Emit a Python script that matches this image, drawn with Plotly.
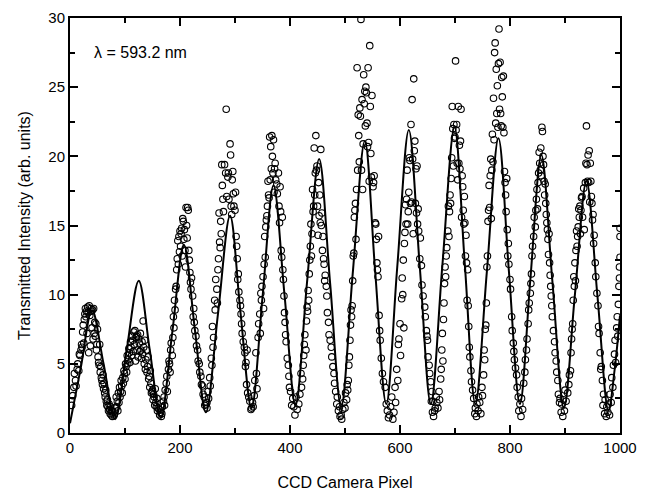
import plotly.graph_objects as go

# ---- fit curve key points ----
fit_x = [0, 20, 40, 61, 82, 103, 125, 145, 165, 186, 207, 227, 247, 269, 291, 310, 330,
         350, 370, 390, 410, 431, 453, 473, 493, 514, 536, 555, 575, 595, 616, 636, 656,
         677, 699, 718, 737, 758, 779, 798, 818, 837, 857, 877, 898, 918, 939, 959, 979,
         990, 1000]
fit_y = [0.7, 4.8, 8.9, 5.0, 1.0, 6.0, 11.0, 6.0, 1.1, 7.3, 13.6, 7.5, 1.5, 8.6, 15.7, 8.7, 1.8,
         9.8, 17.9, 10.0, 2.0, 10.9, 19.8, 10.8, 1.9, 11.5, 21.1, 11.6, 2.1, 12.0, 21.9, 12.0, 2.1,
         12.1, 22.1, 12.1, 2.1, 11.7, 21.3, 11.7, 2.1, 11.1, 20.1, 11.0, 1.8, 10.0, 18.2, 9.9, 1.6,
         4.5, 8.5]

# ---- measured points, per fringe (x pixel, intensity) ----
fringe_1 = [(3,2.0),(5,2.7),(7,3.3),(8,4.3),(10,3.8),(11,3.4),(13,4.6),(14,5.0),(16,4.5),(17,5.7),
            (18,5.6),(20,6.0),(21,6.4),(22,6.2),(23,7.3),(24,7.8),(25,6.5),(26,8.2),(27,8.6),(28,9.0),
            (29,8.4),(30,8.8),(31,7.2),(32,9.1),(33,8.7),(34,5.8),(35,9.2),(36,8.5),(37,6.3),(38,9.0),
            (39,8.8),(40,7.6),(41,8.9),(42,6.8),(43,9.0),(44,7.2),(45,8.0),(46,7.0),(47,7.9),(48,6.0),
            (49,6.4),(50,7.5),(51,5.5),(52,5.1),(53,4.9),(54,6.4),(55,4.4),(56,4.8),(57,4.0),(58,3.8),
            (59,3.5),(60,4.2),(61,3.2),(62,3.6),(63,2.9),(64,2.6),(65,3.1),(66,2.3),(67,2.0),(68,2.4),
            (69,1.9),(70,1.6),(71,2.1),(72,1.7),(73,1.4),(74,1.9),(75,1.3),(76,1.6),(77,1.2),(78,1.5),
            (80,1.3),(82,1.8)]
fringe_2 = [(84,2.6),(85,1.9),(86,2.3),(87,1.6),(88,2.9),(89,2.2),(90,3.3),(91,2.6),(92,3.0),(93,3.8),
            (94,3.4),(95,2.9),(96,4.0),(97,3.6),(98,4.5),(99,4.3),(100,3.9),(101,5.0),(102,4.8),(103,4.4),
            (104,5.6),(105,5.0),(106,5.3),(107,6.1),(108,5.8),(109,5.1),(110,6.6),(111,6.2),(112,5.6),
            (113,7.0),(114,6.7),(115,5.9),(116,7.3),(117,6.4),(118,7.4),(119,5.2),(120,6.9),(121,7.0),
            (122,6.0),(123,7.1),(124,5.5),(125,6.8),(126,6.5),(127,5.9),(128,7.2),(129,6.0),(130,5.4),
            (131,6.6),(132,5.7),(133,8.1),(134,6.2),(135,5.0),(136,6.7),(137,4.6),(138,5.3),(139,6.0),
            (140,4.4),(141,4.8),(142,5.5),(143,3.9),(144,4.1),(145,3.3),(146,4.5),(147,3.6),(148,2.9),
            (149,3.0),(150,3.1),(151,2.4),(152,2.8),(153,2.6),(154,2.0),(155,3.2),(156,2.2),(157,1.9),
            (158,2.5),(159,1.6),(160,1.8),(162,1.7),(163,1.3),(165,1.5),(166,1.2)]
fringe_3 = [(167,1.4),(168,1.9),(170,2.3),(171,2.6),(172,2.0),(173,3.1),(175,3.6),(176,4.1),(177,3.0),
            (179,4.6),(180,5.2),(181,5.0),(182,4.4),(183,6.0),(184,6.5),(186,5.6),(187,6.9),(188,8.4),
            (189,7.6),(190,9.6),(191,8.9),(192,10.4),(193,10.6),(194,11.8),(195,12.6),(196,13.9),
            (197,12.2),(198,14.2),(199,13.1),(200,14.6),(201,13.5),(202,14.4),(203,14.8),(204,12.8),
            (205,15.5),(206,15.3),(207,14.0),(208,14.7),(209,13.2),(210,12.0),(211,16.3),(212,15.0),
            (213,14.1),(214,16.3),(215,16.1),(216,13.2),(217,12.5),(218,11.6),(219,10.9),(220,10.4),
            (221,11.2),(223,9.9),(224,8.4),(225,9.0),(226,8.0),(227,7.4),(229,7.0),(230,6.3),(232,6.0),
            (233,5.2),(235,5.0),(236,4.4),(238,4.1),(239,3.5),(241,3.4),(242,2.8),(244,2.6),(245,2.0),
            (247,2.1),(249,1.8)]
fringe_4 = [(249,2.2),(251,3.0),(252,2.5),(254,4.0),(255,3.4),(257,5.4),(258,4.9),(259,7.7),(260,6.2),
            (261,6.9),(263,9.6),(264,8.9),(265,11.1),(267,10.4),(268,9.4),(269,11.8),(270,12.6),
            (271,15.9),(272,13.8),(273,13.4),(274,15.3),(275,14.4),(276,19.4),(277,17.9),(278,16.9),
            (279,16.0),(281,19.4),(283,18.8),(284,23.4),(285,17.1),(287,18.5),(288,18.8),(289,16.9),
            (291,20.9),(292,20.1),(293,16.4),(294,15.8),(295,18.3),(296,18.9),(297,17.3),(298,16.4),
            (300,16.1),(301,17.4),(302,14.2),(303,13.5),(304,12.6),(305,11.1),(306,11.5),(307,10.2),
            (309,9.6),(310,9.2),(311,8.6),(312,7.9),(313,7.2),(315,6.6),(317,6.2),(318,5.8),(319,4.8),
            (320,5.1),(321,3.5),(322,6.0),(323,2.9),(325,2.6),(327,2.3),(329,1.7),(330,1.8),(332,2.2),
            (333,1.9),(335,2.7)]
fringe_5 = [(336,3.8),(338,5.8),(339,4.3),(340,3.2),(342,6.9),(343,7.9),(345,8.6),(346,7.2),(347,10.1),
            (348,9.6),(349,10.6),(351,11.3),(352,9.0),(353,12.2),(354,14.2),(355,12.7),(356,14.9),
            (357,15.4),(358,15.7),(359,16.4),(360,18.2),(361,17.2),(362,17.0),(363,21.4),(364,18.3),
            (365,20.7),(366,19.1),(367,21.5),(368,20.0),(369,18.8),(370,21.2),(371,17.4),(372,19.1),
            (373,19.5),(374,18.3),(376,18.0),(377,17.3),(379,18.8),(380,16.4),(381,15.2),(382,17.8),
            (383,16.0),(384,13.2),(385,12.7),(386,15.6),(387,11.8),(388,11.1),(389,9.9),(390,8.7),
            (391,8.0),(392,7.1),(393,6.6),(395,5.4),(397,4.9),(398,4.1),(399,3.3),(401,3.0),(403,2.0),
            (405,2.5),(407,1.9),(409,1.3),(411,2.6),(413,1.7)]
fringe_6 = [(416,2.1),(418,2.8),(420,4.3),(421,3.3),(423,3.9),(424,4.9),(425,5.6),(426,6.4),(427,7.1),
            (429,6.0),(430,8.1),(431,9.1),(432,8.8),(433,10.3),(434,9.6),(435,11.5),(436,12.5),
            (437,13.5),(438,15.1),(439,12.8),(440,14.4),(441,17.6),(442,16.0),(443,16.4),(444,20.6),
            (445,17.2),(446,18.8),(447,21.5),(448,19.0),(449,19.3),(450,16.4),(451,14.3),(452,18.1),
            (453,15.7),(454,17.2),(455,15.2),(456,20.5),(457,15.0),(458,15.9),(459,13.2),(460,14.2),
            (461,12.6),(462,12.2),(463,11.0),(464,11.4),(466,10.6),(467,9.9),(468,8.7),(470,8.0),
            (471,7.1),(473,6.7),(475,6.2),(476,5.5),(478,4.8),(480,4.3),(481,3.6),(483,3.0),(485,2.1),
            (486,2.6),(488,1.6),(490,1.9),(491,1.2),(493,1.3),(494,1.0),(496,1.7),(498,2.2)]
fringe_7 = [(500,1.8),(501,2.9),(503,2.4),(504,3.5),(505,3.1),(506,3.8),(507,4.9),(508,5.5),(509,6.7),
            (510,7.8),(511,8.9),(512,8.4),(513,9.2),(514,11.0),(515,12.8),(516,13.0),(517,15.6),
            (518,16.1),(519,16.6),(520,14.0),(521,17.6),(522,26.4),(523,19.0),(524,23.0),(525,21.5),
            (526,19.6),(527,23.5),(528,22.9),(529,29.9),(530,19.0),(531,24.1),(532,17.6),(533,20.9),
            (534,25.9),(535,23.8),(536,24.7),(537,22.2),(538,25.0),(539,24.6),(540,22.4),(541,20.7),
            (542,26.4),(543,21.0),(544,18.2),(545,28.0),(546,23.6),(547,20.2),(548,18.5),(549,24.4),
            (551,17.8),(552,18.1),(553,18.6),(555,15.2),(556,15.1),(557,14.0),(558,12.3),(559,11.8),
            (560,11.3),(561,14.2),(562,8.5),(563,7.4),(564,6.7),(566,5.4),(568,4.3),(570,3.7),
            (573,3.3),(575,2.1),(577,1.6),(579,1.1),(581,1.3),(583,1.9),(585,2.6)]
fringe_8 = [(587,1.0),(589,1.5),(591,3.3),(592,2.2),(594,4.6),(596,3.8),(597,6.4),(598,6.8),(600,7.9),
            (601,5.6),(603,9.7),(604,11.2),(605,10.0),(606,12.5),(607,7.6),(608,13.7),(609,14.5),
            (610,16.5),(611,15.1),(612,16.9),(613,19.0),(614,15.1),(615,16.0),(616,17.4),(617,19.9),
            (618,19.7),(619,16.6),(620,22.3),(621,16.7),(622,24.1),(623,19.8),(624,14.4),(625,25.6),
            (626,20.4),(627,21.1),(628,16.6),(629,19.1),(630,15.9),(631,19.3),(632,15.1),(633,16.2),
            (634,14.6),(636,12.6),(637,14.1),(639,12.1),(640,10.7),(642,9.9),(645,9.1),(646,8.4),
            (648,7.4),(649,7.0),(650,6.7),(651,5.5),(653,4.9),(654,4.3),(656,3.7),(657,2.3),(658,3.0),
            (659,1.5),(660,2.3),(661,1.2),(663,1.6),(664,1.8),(666,2.6),(667,2.2)]
fringe_9 = [(669,1.8),(671,3.0),(672,2.4),(674,3.9),(675,4.6),(676,6.0),(677,7.2),(678,5.2),(679,8.2),
            (680,9.4),(681,10.8),(682,12.0),(683,11.3),(684,12.8),(685,13.4),(687,14.6),(688,16.4),
            (689,14.2),(690,16.0),(691,17.2),(692,16.6),(693,18.4),(694,19.9),(695,23.6),(696,22.0),
            (697,19.3),(698,22.3),(699,21.3),(700,21.4),(701,26.9),(702,21.9),(703,22.3),(704,19.5),
            (705,18.3),(706,23.6),(707,19.5),(708,20.8),(709,19.1),(710,21.1),(711,23.4),(712,15.6),
            (713,18.6),(714,17.8),(715,16.1),(716,15.1),(717,17.1),(718,15.2),(719,12.8),(720,14.3),
            (721,12.3),(722,9.6),(723,11.8),(724,9.2),(725,7.7),(726,6.2),(727,5.5),(729,4.5),(730,3.7),
            (732,3.1),(734,2.5),(736,1.4),(737,1.8),(739,1.2),(740,2.1),(742,1.6),(743,2.6)]
fringe_10 = [(745,2.2),(747,1.4),(749,3.3),(750,2.7),(752,4.2),(753,6.0),(754,5.3),(755,7.5),(756,7.8),
             (757,9.4),(758,12.0),(759,12.8),(760,15.3),(761,16.1),(762,17.9),(763,16.3),(764,18.6),
             (765,19.8),(766,15.5),(767,19.0),(768,21.6),(769,19.6),(770,24.2),(771,21.2),(772,27.5),
             (773,28.2),(774,22.4),(775,26.3),(776,23.1),(777,25.1),(778,22.1),(779,26.7),(780,29.2),
             (781,23.4),(782,26.8),(783,23.1),(784,22.2),(785,25.7),(786,24.3),(787,22.1),(788,25.8),
             (789,21.7),(790,18.9),(791,18.1),(792,17.2),(793,16.0),(794,18.4),(795,14.7),(796,12.8),
             (797,13.7),(798,12.2),(800,11.1),(801,10.4),(803,8.4),(804,7.4),(806,6.5),(807,5.9),
             (808,5.3),(810,4.7),(812,4.2),(813,3.3),(815,2.6),(816,1.6),(818,2.1),(820,1.2),(821,2.5),
             (823,1.7)]
fringe_11 = [(825,3.6),(827,4.4),(828,5.3),(830,6.0),(831,6.8),(833,7.9),(834,8.9),(835,9.4),(837,10.1),
             (838,10.8),(839,11.5),(840,12.8),(841,13.5),(843,14.2),(844,15.6),(846,14.9),(847,16.1),
             (848,16.9),(849,17.6),(850,16.2),(851,18.1),(852,18.8),(853,20.3),(854,19.5),(855,19.0),
             (856,20.6),(857,18.6),(858,22.1),(859,21.8),(860,20.0),(861,19.4),(862,18.2),(863,17.2),
             (864,18.0),(865,16.6),(866,15.8),(867,15.2),(868,14.7),(869,14.0),(870,12.9),(871,14.4),
             (872,12.3),(873,11.4),(874,10.6),(875,9.9),(876,9.2),(877,8.4),(879,7.4),(881,6.6),
             (882,5.8),(884,5.2),(885,4.4),(887,3.8),(888,2.8),(890,2.2),(891,2.5),(893,1.5),(894,2.1),
             (896,1.2),(897,2.4),(899,1.6),(900,3.1),(902,2.3)]
fringe_12 = [(905,2.9),(907,3.5),(908,4.2),(910,4.5),(911,5.8),(912,6.8),(913,7.5),(914,7.9),(915,9.6),
             (916,11.3),(917,10.6),(918,12.3),(919,11.0),(920,13.2),(921,14.6),(922,13.5),(923,14.2),
             (924,14.9),(925,16.2),(926,15.6),(927,16.4),(928,14.4),(929,16.1),(930,17.0),(931,17.1),
             (932,15.6),(934,17.7),(935,14.7),(937,18.1),(938,19.5),(939,22.2),(940,19.4),(941,18.2),
             (942,20.1),(943,18.1),(944,20.4),(945,16.7),(946,19.5),(947,18.2),(948,17.1),(949,16.6),
             (950,15.4),(951,15.8),(952,13.7),(953,14.3),(955,12.3),(956,11.3),(958,10.1),(960,9.2),
             (961,7.7),(962,7.2),(964,5.8),(965,4.6),(966,4.8),(968,3.8),(969,2.0),(970,2.8),(972,1.4),
             (973,2.4),(975,1.2),(976,1.9),(978,1.5),(979,2.1),(981,1.3),(982,2.8),(984,2.2),(985,4.0),
             (987,3.3),(988,4.9),(990,5.7),(991,6.7),(992,5.1),(994,7.6),(995,8.4),(996,7.0),(997,9.3),
             (998,10.6),(999,12.0),(1000,12.7),(1000,14.8),(1000,14.2),(999,11.2)]

fringes = [fringe_1, fringe_2, fringe_3, fringe_4, fringe_5, fringe_6,
           fringe_7, fringe_8, fringe_9, fringe_10, fringe_11, fringe_12]

x_ticks = [0, 200, 400, 600, 800, 1000]
y_ticks = [0, 5, 10, 15, 20, 25, 30]
label_text = "λ = 593.2 nm"
x_title = "CCD Camera Pixel"
y_title = "Transmitted Intensity (arb. units)"

pts_x = [p[0] for f in fringes for p in f]
pts_y = [p[1] for f in fringes for p in f]

FONT = "Liberation Sans, Arial, Helvetica, sans-serif"

fig = go.Figure()
fig.add_trace(go.Scatter(
    x=pts_x, y=pts_y, mode="markers",
    marker=dict(symbol="circle-open", size=6.5, color="black", line=dict(width=1.1, color="black")),
    showlegend=False, hoverinfo="skip"))
fig.add_trace(go.Scatter(
    x=fit_x, y=fit_y, mode="lines",
    line=dict(color="black", width=2, shape="spline", smoothing=1.0),
    showlegend=False, hoverinfo="skip"))

fig.add_annotation(x=40, y=27.5, xref="x", yref="y", text=label_text, showarrow=False,
                   xanchor="left", yanchor="middle", font=dict(family=FONT, size=16, color="black"))

axis_common = dict(showgrid=False, zeroline=False, showline=True, linecolor="black", linewidth=2,
                   mirror="ticks", ticks="inside", ticklen=8, tickwidth=1.5, tickcolor="black",
                   automargin=False,
                   tickfont=dict(family=FONT, size=15, color="black"))

fig.update_xaxes(range=[0, 1000], tickvals=x_ticks, ticktext=[str(v) for v in x_ticks],
                 minor=dict(dtick=100, ticks="inside", ticklen=5, tickwidth=1.5, tickcolor="black"),
                 title=dict(text=x_title, font=dict(family=FONT, size=16, color="black"), standoff=22),
                 **axis_common)
fig.update_yaxes(range=[0, 30], tickvals=y_ticks, ticktext=[str(v) for v in y_ticks],
                 minor=dict(dtick=2.5, ticks="inside", ticklen=5, tickwidth=1.5, tickcolor="black"),
                 title=dict(text=y_title, font=dict(family=FONT, size=16, color="black"), standoff=14),
                 **axis_common)

fig.update_layout(width=652, height=493, margin=dict(l=70, r=32, t=18, b=60),
                  paper_bgcolor="white", plot_bgcolor="white",
                  font=dict(family=FONT, color="black"))

fig.write_html("out.html", config={"displayModeBar": False},
               post_script="document.body.style.margin='0';document.body.style.overflow='hidden';")
